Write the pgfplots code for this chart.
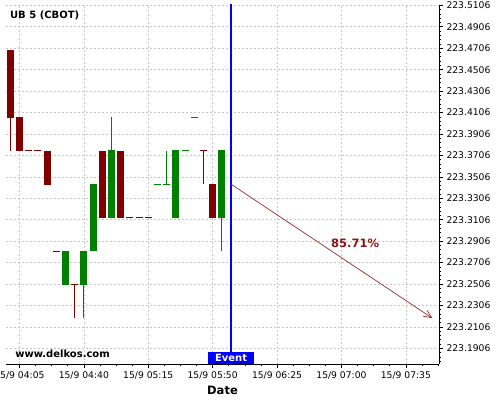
\documentclass[border=0pt]{standalone}
\usepackage{pgfplots}
\pgfplotsset{compat=1.18}
\usepackage{pgfplotstable}
\usepackage{fontspec}
\setmainfont{DejaVu Sans}
\usetikzlibrary{arrows.meta}
\definecolor{cred}{RGB}{128,0,0}
\definecolor{cgreen}{RGB}{0,128,0}
\definecolor{lblred}{RGB}{139,20,20}
\definecolor{arrred}{RGB}{150,40,40}
\definecolor{evblue}{RGB}{0,0,255}

% minutes after 15/9 04:00, open high low close
\pgfplotstableread{
t open high low close
0 223.46875 223.46875 223.375 223.40625
5 223.40625 223.40625 223.375 223.375
10 223.375 223.375 223.375 223.375
15 223.375 223.375 223.375 223.375
20 223.375 223.375 223.34375 223.34375
25 223.28125 223.28125 223.28125 223.28125
35 223.25 223.25 223.21875 223.25
50 223.375 223.375 223.3125 223.3125
60 223.375 223.375 223.3125 223.3125
65 223.3125 223.3125 223.3125 223.3125
70 223.3125 223.3125 223.3125 223.3125
75 223.3125 223.3125 223.3125 223.3125
105 223.375 223.375 223.34375 223.375
110 223.34375 223.34375 223.3125 223.3125
}\redcandles

\pgfplotstableread{
t open high low close
30 223.25 223.28125 223.25 223.28125
40 223.25 223.28125 223.21875 223.28125
45 223.28125 223.34375 223.28125 223.34375
55 223.3125 223.40625 223.3125 223.375
80 223.34375 223.34375 223.34375 223.34375
85 223.34375 223.375 223.34375 223.34375
90 223.3125 223.375 223.3125 223.375
95 223.375 223.375 223.375 223.375
100 223.40625 223.40625 223.40625 223.40625
115 223.3125 223.375 223.28125 223.375
}\greencandles

% event marker (vertical line) at 06:00
\pgfplotstableread{
t y
120 223.10
}\eventline

\begin{document}
\begin{tikzpicture}
\useasboundingbox (0,0) rectangle (500pt,400pt);
\begin{axis}[
  at={(6pt,36pt)}, anchor=south west,
  scale only axis, width=433pt, height=359.3pt,
  xmin=-2.3, xmax=233, ymin=223.176, ymax=223.5112,
  axis x line*=bottom, axis y line*=right,
  axis line style={-, line width=0.9pt, black},
  tick align=outside,
  major tick length=4pt, minor tick length=2pt,
  tick style={black, line width=0.6pt},
  xtick={5,40,75,110,145,180,215},
  xticklabels={15/9 04:05,15/9 04:40,15/9 05:15,15/9 05:50,15/9 06:25,15/9 07:00,15/9 07:35},
  minor xtick={5,13.75,...,233},
  ytick={223.1906,223.2106,223.2306,223.2506,223.2706,223.2906,223.3106,223.3306,223.3506,223.3706,223.3906,223.4106,223.4306,223.4506,223.4706,223.4906,223.5106},
  yticklabels={223.1906,223.2106,223.2306,223.2506,223.2706,223.2906,223.3106,223.3306,223.3506,223.3706,223.3906,223.4106,223.4306,223.4506,223.4706,223.4906,223.5106},
  minor ytick={223.1786,223.1826,...,223.5106},
  ticklabel style={font=\fontsize{9.2}{10}\selectfont},
  grid=major,
  major grid style={dash pattern=on 2pt off 2pt, black!22, line width=0.6pt},
  xlabel={Date},
  xlabel style={font=\bfseries\fontsize{11.5}{12}\selectfont},
]
% wicks
\addplot[forget plot, draw=none, no markers, error bars/.cd, y dir=plus, y explicit, error mark=none,
  error bar style={draw=cred, line width=0.9pt}]
  table[x=t, y=low, y error plus expr={\thisrow{high}-\thisrow{low}}] {\redcandles};
\addplot[forget plot, draw=none, no markers, error bars/.cd, y dir=plus, y explicit, error mark=none,
  error bar style={draw=cgreen, line width=0.9pt}]
  table[x=t, y=low, y error plus expr={\thisrow{high}-\thisrow{low}}] {\greencandles};
% bodies
\addplot[forget plot, draw=none, no markers, error bars/.cd, y dir=plus, y explicit, error mark=none,
  error bar style={draw=cred, line width=7pt}]
  table[x=t, y expr={min(\thisrow{open},\thisrow{close})}, y error plus expr={abs(\thisrow{close}-\thisrow{open})}] {\redcandles};
\addplot[forget plot, draw=none, no markers, error bars/.cd, y dir=plus, y explicit, error mark=none,
  error bar style={draw=cgreen, line width=7pt}]
  table[x=t, y expr={min(\thisrow{open},\thisrow{close})}, y error plus expr={abs(\thisrow{close}-\thisrow{open})}] {\greencandles};
% dashes (open = close)
\addplot[forget plot, only marks, mark=-, mark size=3.5pt, mark options={draw=cred, line width=1pt}]
  table[x=t, y=close] {\redcandles};
\addplot[forget plot, only marks, mark=-, mark size=3.5pt, mark options={draw=cgreen, line width=1pt}]
  table[x=t, y=close] {\greencandles};
% event line
\addplot[forget plot, draw=none, no markers, error bars/.cd, y dir=plus, y explicit, error mark=none,
  error bar style={draw=evblue, line width=1.3pt}]
  table[x=t, y=y, y error plus expr=0.5] {\eventline};
% forecast arrow
\addplot[forget plot, draw=arrred, no markers, line width=0.7pt, -{Straight Barb[length=8pt,width=7pt]}]
  coordinates {(120,223.34375) (229.4,223.21875)};
\node[text=lblred, font=\bfseries\fontsize{11.5}{12}\selectfont] at (axis cs:187.4,223.2883) {85.71\%};
\node[fill=evblue, text=white, font=\bfseries\fontsize{10}{11}\selectfont, anchor=south,
  minimum width=46pt, minimum height=11.5pt, inner sep=0pt] at (axis cs:120,223.176) {Event};
\node[anchor=west, inner sep=0pt, font=\bfseries\fontsize{10}{11}\selectfont] at (rel axis cs:0.009,0.970) {UB 5 (CBOT)};
\node[anchor=west, inner sep=0pt, font=\bfseries\fontsize{10}{11}\selectfont] at (rel axis cs:0.021,0.028) {www.delkos.com};
\end{axis}
\end{tikzpicture}
\end{document}
